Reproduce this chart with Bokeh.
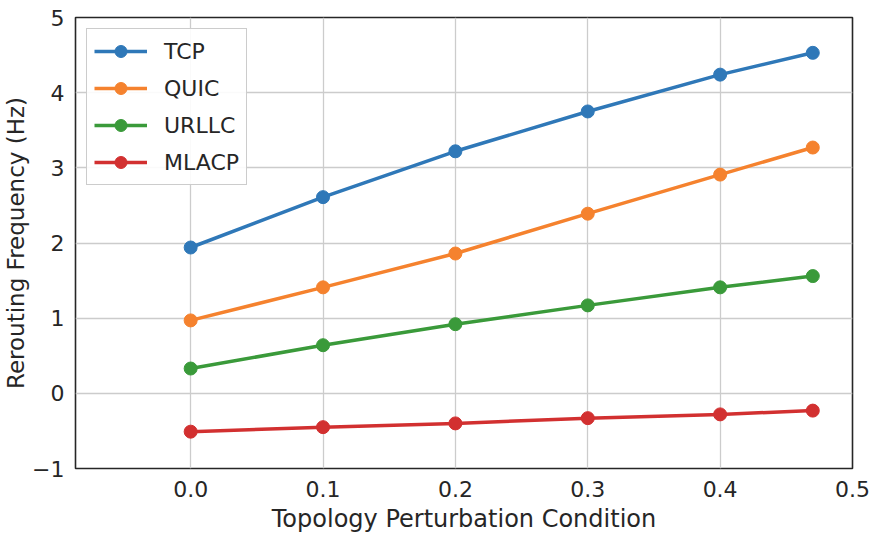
from bokeh.plotting import figure
from bokeh.embed import file_html
from bokeh.resources import INLINE
from bokeh.models import FixedTicker, Range1d, Legend, LegendItem, NumeralTickFormatter

x = [0.0, 0.1, 0.2, 0.3, 0.4, 0.47]
tcp = [1.94, 2.61, 3.22, 3.75, 4.24, 4.53]
quic = [0.97, 1.41, 1.86, 2.39, 2.91, 3.27]
urllc = [0.33, 0.64, 0.92, 1.17, 1.41, 1.56]
mlacp = [-0.51, -0.45, -0.40, -0.33, -0.28, -0.23]
names = ["TCP", "QUIC", "URLLC", "MLACP"]
colors = ["#2f78b8", "#f5822e", "#3a9a3a", "#d23030"]
xticks = [0.0, 0.1, 0.2, 0.3, 0.4, 0.5]
yticks = [-1, 0, 1, 2, 3, 4, 5]

FONT = "DejaVu Sans"
TXT = "#262626"

p = figure(width=872, height=538, output_backend="svg", toolbar_location=None,
           x_range=Range1d(-0.087, 0.5), y_range=Range1d(-1, 5),
           min_border_left=75, min_border_top=17, min_border_right=20, min_border_bottom=70)
p.background_fill_color = "white"
p.border_fill_color = "white"
p.outline_line_color = "#262626"
p.outline_line_width = 1.6

items = []
for ys, name, c in zip([tcp, quic, urllc, mlacp], names, colors):
    r1 = p.line(x, ys, line_color=c, line_width=3.5)
    r2 = p.scatter(x, ys, size=13, fill_color=c, line_color=c)
    items.append(LegendItem(label=name, renderers=[r1, r2]))

leg = Legend(items=items, location="top_left")
leg.label_text_font = FONT
leg.label_text_font_size = "22px"
leg.label_text_color = TXT
leg.glyph_width = 53
leg.glyph_height = 30
leg.spacing = 7
leg.padding = 7
leg.margin = 11
leg.border_line_color = "#cccccc"
leg.border_line_width = 1.2
leg.border_line_alpha = 1.0
leg.background_fill_alpha = 0.9
leg.label_standoff = 17
p.add_layout(leg)

p.xaxis.ticker = FixedTicker(ticks=xticks)
p.xaxis.formatter = NumeralTickFormatter(format="0.0")
p.yaxis.ticker = FixedTicker(ticks=yticks)
p.yaxis.major_label_overrides = {-1: "\u22121"}

for ax in [p.xaxis[0], p.yaxis[0]]:
    ax.axis_line_color = None
    ax.major_tick_line_color = None
    ax.minor_tick_line_color = None
    ax.major_tick_out = 0
    ax.major_tick_in = 0
    ax.minor_tick_out = 0
    ax.minor_tick_in = 0
    ax.major_label_text_font = FONT
    ax.major_label_text_font_size = "22px"
    ax.major_label_text_color = TXT
    ax.axis_label_text_font = FONT
    ax.axis_label_text_font_size = "23px"
    ax.axis_label_text_font_style = "normal"
    ax.axis_label_text_color = TXT

p.xaxis.axis_label_text_font_size = "24px"
p.xaxis.major_label_standoff = 12
p.xaxis.axis_label_standoff = 5
p.yaxis.major_label_standoff = 11
p.yaxis.axis_label_standoff = 0
p.xaxis.axis_label = "Topology Perturbation Condition"
p.yaxis.axis_label = "Rerouting Frequency (Hz)"

p.xgrid.ticker = FixedTicker(ticks=xticks)
p.ygrid.ticker = FixedTicker(ticks=yticks)
p.grid.grid_line_color = "#cccccc"
p.grid.grid_line_width = 1.3

open("out.html", "w").write(file_html(p, INLINE))
